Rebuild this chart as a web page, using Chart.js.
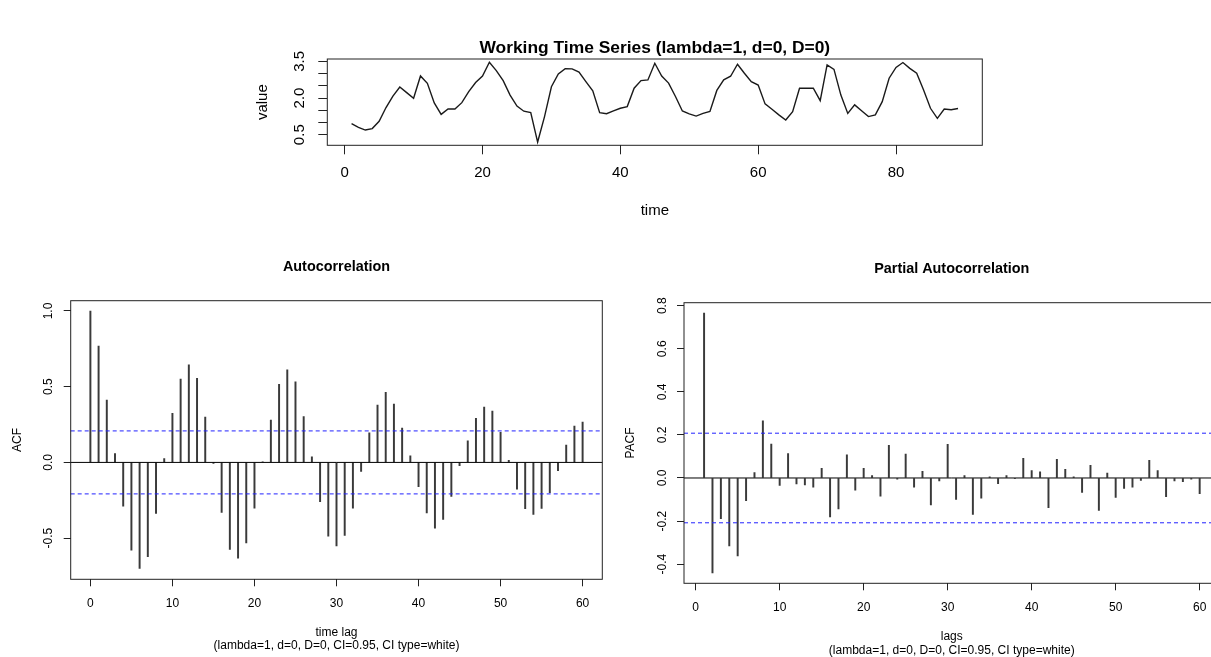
<!DOCTYPE html>
<html>
<head>
<meta charset="utf-8">
<script src="https://cdn.jsdelivr.net/npm/chart.js@4/dist/chart.umd.min.js"></script>
<style>
  html, body { margin: 0; padding: 0; background: #fff; width: 1211px; height: 657px; overflow: hidden; position: relative; }
  canvas { position: absolute; }
  #ts { left: 0; top: 0; }
  #acf { left: 0; top: 240px; }
  #pacf { left: 615px; top: 240px; }
</style>
</head>
<body>
<canvas id="ts" width="1211" height="235"></canvas>
<canvas id="acf" width="615" height="417"></canvas>
<canvas id="pacf" width="610" height="417"></canvas>
<script>
// working series (time index starts at 1)
const timeStart = 1;
const seriesValues = [
  0.95, 0.80, 0.69, 0.75, 1.05, 1.61, 2.08, 2.45, 2.22, 1.99,
  2.90, 2.60, 1.80, 1.33, 1.55, 1.55, 1.81, 2.26, 2.63, 2.90,
  3.46, 3.12, 2.71, 2.12, 1.67, 1.46, 1.40, 0.20, 1.24, 2.46,
  2.98, 3.20, 3.19, 3.06, 2.67, 2.29, 1.40, 1.36, 1.47, 1.58,
  1.65, 2.40, 2.71, 2.74, 3.42, 2.90, 2.61, 2.06, 1.47, 1.35,
  1.26, 1.37, 1.45, 2.31, 2.74, 2.89, 3.38, 3.01, 2.67, 2.53,
  1.76, 1.54, 1.31, 1.10, 1.44, 2.40, 2.40, 2.40, 1.89, 3.35,
  3.17, 2.12, 1.37, 1.72, 1.48, 1.24, 1.31, 1.85, 2.81, 3.25,
  3.45, 3.21, 3.01, 2.33, 1.58, 1.17, 1.55, 1.52, 1.57
];
const tsXTicks = [0, 20, 40, 60, 80];
const tsYTicks = [0.5, 1.0, 1.5, 2.0, 2.5, 3.0, 3.5];
const tsYTickLabels = ['0.5', '', '', '2.0', '', '', '3.5'];

// autocorrelation, lags 0..60
const acfStartLag = 0;
const acfValues = [
  1.000, 0.769, 0.412, 0.059, -0.289, -0.579, -0.700, -0.623, -0.337, 0.026,
  0.324, 0.551, 0.645, 0.555, 0.300, -0.007, -0.330, -0.575, -0.632, -0.531,
  -0.302, 0.003, 0.280, 0.515, 0.612, 0.533, 0.302, 0.037, -0.260, -0.487,
  -0.551, -0.482, -0.302, -0.059, 0.196, 0.379, 0.463, 0.385, 0.227, 0.044,
  -0.161, -0.333, -0.434, -0.377, -0.225, -0.022, 0.143, 0.291, 0.366, 0.339,
  0.198, 0.013, -0.176, -0.306, -0.344, -0.304, -0.200, -0.055, 0.115, 0.240, 0.267
];
const acfXTicks = [0, 10, 20, 30, 40, 50, 60];
const acfYTicks = [-0.5, 0.0, 0.5, 1.0];
const acfYTickLabels = ['-0.5', '0.0', '0.5', '1.0'];

// partial autocorrelation, lags 1..60
const pacfStartLag = 1;
const pacfValues = [
  0.766, -0.441, -0.189, -0.316, -0.362, -0.105, 0.025, 0.265, 0.158, -0.034,
  0.113, -0.028, -0.032, -0.043, 0.045, -0.181, -0.144, 0.108, -0.056, 0.045,
  0.011, -0.084, 0.152, -0.006, 0.111, -0.043, 0.031, -0.125, -0.014, 0.156,
  -0.099, 0.011, -0.169, -0.094, 0.005, -0.026, 0.011, -0.003, 0.091, 0.034,
  0.029, -0.138, 0.087, 0.040, 0.005, -0.067, 0.059, -0.150, 0.023, -0.090,
  -0.048, -0.043, -0.011, 0.082, 0.034, -0.087, -0.014, -0.017, -0.006, -0.073
];
const pacfXTicks = [0, 10, 20, 30, 40, 50, 60];
const pacfYTicks = [-0.4, -0.2, 0.0, 0.2, 0.4, 0.6, 0.8];
const pacfYTickLabels = ['-0.4', '-0.2', '0.0', '0.2', '0.4', '0.6', '0.8'];

// white-noise confidence bound (CI=0.95)
const ciBound = 0.208;
const subText = '(lambda=1, d=0, D=0, CI=0.95, CI type=white)';

const FONT = "'Liberation Sans', Arial, Helvetica, sans-serif";
Chart.defaults.font.family = FONT;

function drawText(ctx, text, x, y, font, rotate) {
  ctx.save();
  ctx.translate(x, y);
  if (rotate) ctx.rotate(-Math.PI / 2);
  ctx.font = font;
  ctx.fillStyle = '#000';
  ctx.textAlign = 'center';
  ctx.textBaseline = 'middle';
  ctx.fillText(text, 0, 0);
  ctx.restore();
}

// R-like decorations: box, zero line, CI lines, titles, rotated y labels
function rDecor(cfg) {
  return {
    id: 'rDecor',
    afterDatasetsDraw(chart) {
      const ctx = chart.ctx, a = chart.chartArea, y = chart.scales.y;
      ctx.save();
      if (cfg.zeroLine) {
        const y0 = y.getPixelForValue(0);
        ctx.strokeStyle = '#000';
        ctx.lineWidth = 1;
        ctx.beginPath(); ctx.moveTo(a.left, y0); ctx.lineTo(a.right, y0); ctx.stroke();
      }
      if (cfg.ci) {
        ctx.strokeStyle = '#2222ff';
        ctx.lineWidth = 1;
        ctx.setLineDash([4, 3]);
        [cfg.ci, -cfg.ci].forEach(v => {
          const py = y.getPixelForValue(v);
          ctx.beginPath(); ctx.moveTo(a.left, py); ctx.lineTo(a.right, py); ctx.stroke();
        });
      }
      ctx.restore();
    },
    afterDraw(chart) {
      const ctx = chart.ctx, a = chart.chartArea, y = chart.scales.y;
      const midX = (a.left + a.right) / 2, midY = (a.top + a.bottom) / 2;
      ctx.save();
      ctx.strokeStyle = '#222';
      ctx.lineWidth = 1;
      ctx.strokeRect(a.left, a.top, a.right - a.left, a.bottom - a.top);
      ctx.restore();

      const f = cfg.fontSize;
      y.ticks.forEach((t, i) => {
        const lbl = cfg.yLabels[i];
        if (lbl) drawText(ctx, lbl, a.left - cfg.yLabelGap, y.getPixelForValue(t.value), f + 'px ' + FONT, true);
      });
      drawText(ctx, cfg.title, midX, a.top - cfg.titleGap, 'bold ' + cfg.titleSize + 'px ' + FONT);
      drawText(ctx, cfg.xTitle, midX, a.bottom + cfg.xTitleGap, f + 'px ' + FONT);
      if (cfg.sub) drawText(ctx, cfg.sub, midX, a.bottom + cfg.subGap, f + 'px ' + FONT);
      drawText(ctx, cfg.yTitle, a.left - cfg.yTitleGap, midY, f + 'px ' + FONT, true);
    }
  };
}

function fixedTicks(list) {
  return scale => { scale.ticks = list.map(v => ({ value: v })); };
}

function axisX(min, max, ticks, height, fontSize, tickLen, pad) {
  return {
    type: 'linear', min: min, max: max, offset: false,
    afterBuildTicks: fixedTicks(ticks),
    afterFit: s => { s.height = height; },
    border: { display: false },
    grid: { display: true, offset: false, drawOnChartArea: false, drawTicks: true, tickLength: tickLen, color: '#222', lineWidth: 1 },
    ticks: { autoSkip: false, maxRotation: 0, font: { size: fontSize }, color: '#000', padding: pad }
  };
}

function axisY(min, max, ticks, width, tickLen) {
  return {
    type: 'linear', min: min, max: max,
    afterBuildTicks: fixedTicks(ticks),
    afterFit: s => { s.width = width; },
    border: { display: false },
    grid: { display: true, drawOnChartArea: false, drawTicks: true, tickLength: tickLen, color: '#222', lineWidth: 1 },
    ticks: { display: false }
  };
}

const baseOpts = {
  responsive: false,
  animation: false,
  events: [],
  plugins: { legend: { display: false }, tooltip: { enabled: false } }
};

// top: working time series
new Chart(document.getElementById('ts'), {
  type: 'line',
  data: {
    datasets: [{
      data: seriesValues.map((v, i) => ({ x: timeStart + i, y: v })),
      borderColor: '#1a1a1a', borderWidth: 1.4, pointRadius: 0, tension: 0, fill: false
    }]
  },
  options: Object.assign({}, baseOpts, {
    layout: { padding: { left: 247.3, right: 228.7, top: 59, bottom: 0 } },
    scales: {
      x: axisX(-2.52, 92.52, tsXTicks, 89.7, 15, 9, 10),
      y: axisY(0.067, 3.594, tsYTicks, 80, 9)
    }
  }),
  plugins: [rDecor({
    fontSize: 15, titleSize: 17.4, yLabels: tsYTickLabels, yLabelGap: 27,
    title: 'Working Time Series (lambda=1, d=0, D=0)', titleGap: 10.5,
    xTitle: 'time', xTitleGap: 66, yTitle: 'value', yTitleGap: 64
  })]
});

function spikeChart(id, startLag, values, xr, yr, xTicks, yTicks, yLabels, pad, xh, subGap, title, xTitle, yTitle) {
  return new Chart(document.getElementById(id), {
    type: 'bar',
    data: {
      datasets: [{
        data: values.map((v, i) => ({ x: startLag + i, y: v })),
        backgroundColor: '#3a3a3a', borderWidth: 0, barThickness: 1.3
      }]
    },
    options: Object.assign({}, baseOpts, {
      layout: { padding: pad },
      scales: {
        x: axisX(xr[0], xr[1], xTicks, xh, 12, 7, 10.5),
        y: axisY(yr[0], yr[1], yTicks, 50, 7)
      }
    }),
    plugins: [rDecor({
      fontSize: 12, titleSize: 14.4, yLabels: yLabels, yLabelGap: 21.7,
      title: title, titleGap: 34, xTitle: xTitle, xTitleGap: 53.5,
      sub: subText, subGap: subGap, yTitle: yTitle, yTitleGap: 53.5,
      zeroLine: true, ci: ciBound
    })]
  });
}

spikeChart('acf', acfStartLag, acfValues, [-2.4, 62.4], [-0.772, 1.068],
  acfXTicks, acfYTicks, acfYTickLabels,
  { left: 20.7, right: 12.7, top: 60.7, bottom: 0 }, 77.7, 66,
  'Autocorrelation', 'time lag', 'ACF');

spikeChart('pacf', pacfStartLag, pacfValues, [-1.39, 62.36], [-0.489, 0.814],
  pacfXTicks, pacfYTicks, pacfYTickLabels,
  { left: 19, right: 5.5, top: 62.7, bottom: 0 }, 73.7, 67.5,
  'Partial Autocorrelation', 'lags', 'PACF');
</script>
</body>
</html>
